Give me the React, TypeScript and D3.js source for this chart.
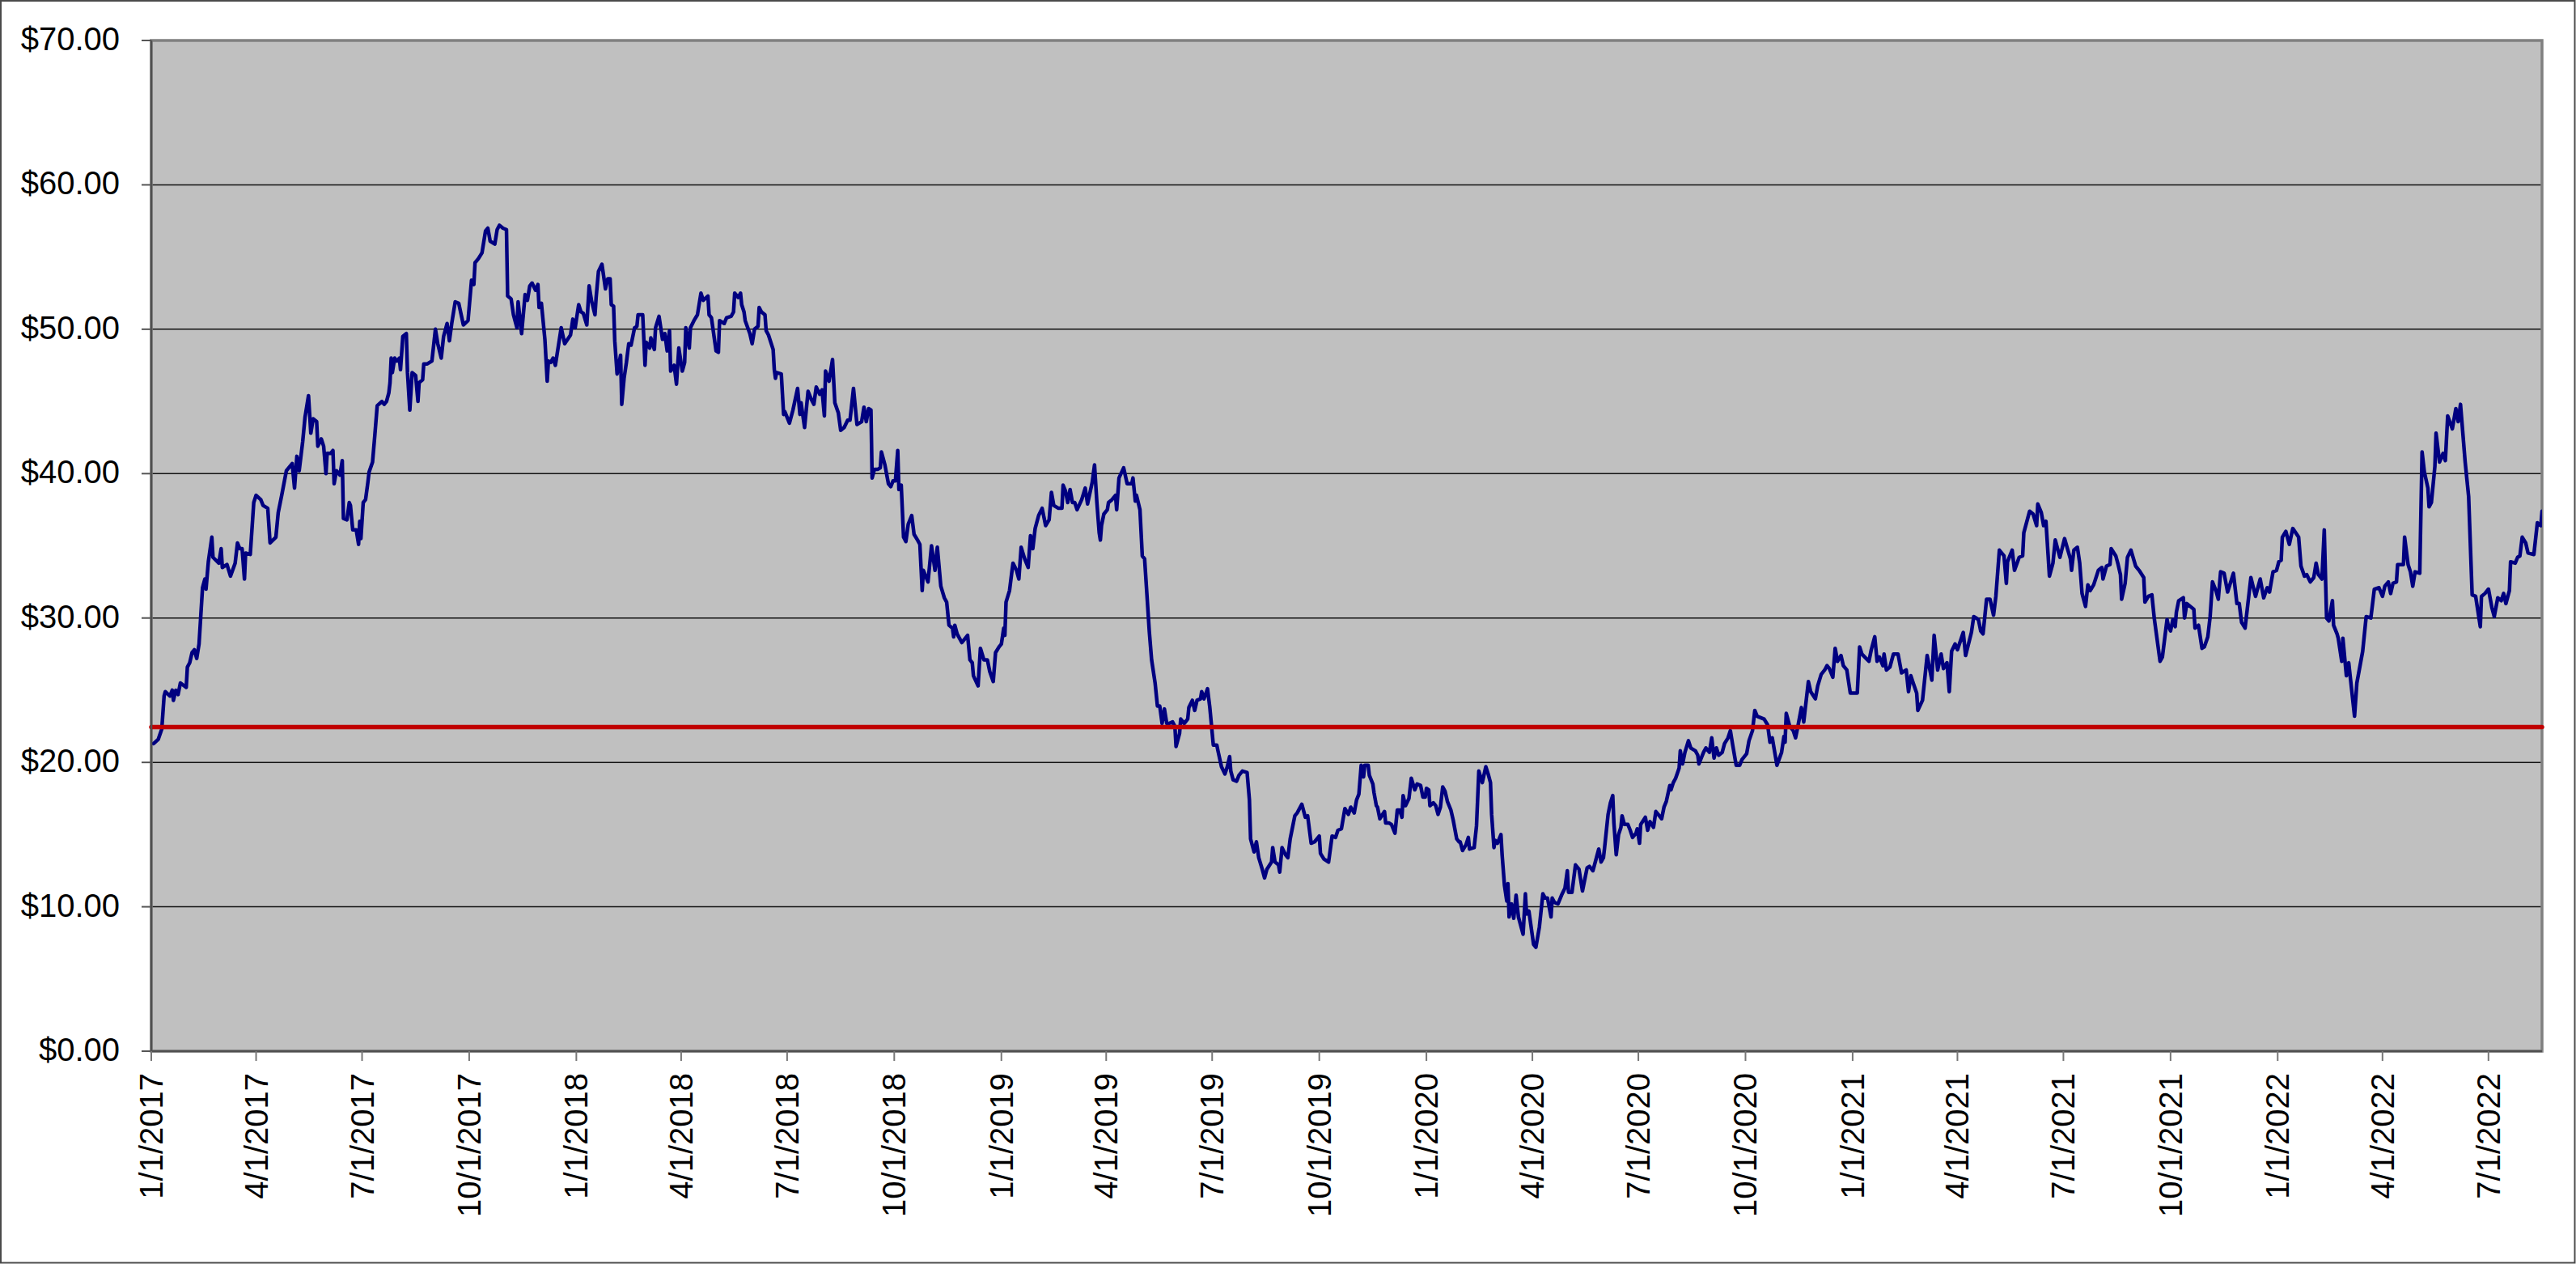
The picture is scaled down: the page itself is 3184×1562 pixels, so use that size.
import React, { useEffect } from "react";
import * as d3 from "d3";

// ---- data ----
const startDate = "2017-01-01";
const endDate = "2022-08-16";

// days since 1/1/2017
const dayOffsets = [
  2,6,9,11,12,16,18,19,21,23,25,30,31,33,35,37,39,41,44,46,47,49,52,53,58,60,61,65,68,72,74,76,78,80,81,85,88,90,94,96,100,102,107,109,112,116,119,121,123,125,127,130,132,135,137,139,142,143,146,148,150,151,154,156,157,159,162,164,165,168,170,171,173,176,178,179,180,182,184,186,187,190,192,194,198,200,202,204,205,206,207,209,211,213,214,216,219,220,222,224,227,229,230,233,234,237,241,244,246,249,251,254,256,258,261,264,268,272,275,277,278,281,284,287,289,291,295,297,299,302,305,306,309,311,314,315,318,321,323,325,327,330,332,333,335,338,340,341,
  343,345,347,352,355,360,362,364,367,369,371,374,376,378,381,382,384,387,390,392,394,395,397,398,400,403,404,406,408,410,412,415,417,418,422,424,425,428,429,432,433,436,439,441,443,445,446,449,451,453,456,458,459,462,463,466,469,472,474,478,479,481,485,487,488,492,494,498,500,501,504,506,507,509,510,514,516,518,521,522,524,527,528,530,534,535,536,537,541,543,544,548,551,555,557,558,561,564,567,569,571,574,576,578,579,582,585,587,590,592,595,598,600,603,606,610,612,614,616,618,619,621,624,626,627,630,633,635,637,639,641,642,644,646,648,650,653,655,658,660,662,663,667,670,673,675,678,681,683,685,688,689,
  690,692,696,701,703,705,706,710,712,715,718,720,723,725,728,730,732,733,734,737,739,740,743,745,747,750,753,755,757,759,762,765,768,771,773,775,779,782,783,785,787,789,791,793,795,799,802,804,808,810,812,814,815,816,818,821,822,825,828,829,831,835,838,842,843,845,846,849,851,853,855,857,859,862,864,866,868,870,872,874,877,879,880,883,884,887,890,891,894,896,898,901,902,904,907,909,912,915,916,919,922,924,926,927,929,932,934,937,941,943,944,947,949,951,954,956,958,962,963,965,968,969,971,974,976,978,982,984,988,991,993,996,999,1003,1004,1007,1011,1014,1017,1019,1022,1025,1028,1030,1033,1035,
  1037,1039,1041,1042,1045,1046,1049,1050,1052,1053,1055,1059,1060,1063,1065,1068,1070,1072,1074,1075,1077,1080,1082,1085,1087,1090,1092,1094,1095,1097,1098,1101,1103,1105,1107,1109,1111,1113,1116,1118,1121,1123,1124,1126,1129,1131,1132,1136,1138,1140,1143,1146,1148,1150,1151,1153,1154,1156,1159,1160,1162,1164,1165,1166,1168,1170,1172,1174,1178,1180,1181,1183,1187,1189,1192,1195,1197,1199,1202,1203,1205,1208,1211,1214,1216,1217,1220,1223,1226,1229,1233,1235,1238,1241,1243,1245,1247,1248,1251,1253,1255,1256,1258,1260,1262,1263,1265,1268,1270,1272,1275,1276,1278,1279,1283,1285,1287,1290,1292,1295,1297,1299,1301,1304,1305,1307,1309,1312,1313,1315,1317,1320,1322,1326,1328,1329,1333,1335,1338,1340,1342,1344,1346,1349,1351,1354,1356,1358,1361,1364,1366,1370,1372,1375,1377,1379,1382,
  1385,1388,1390,1392,1396,1400,1402,1403,1404,1407,1410,1412,1414,1417,1419,1423,1425,1429,1431,1434,1437,1439,1441,1444,1446,1448,1451,1453,1456,1459,1465,1467,1469,1475,1477,1480,1482,1484,1487,1488,1490,1493,1496,1500,1503,1507,1509,1511,1513,1516,1517,1521,1525,1529,1531,1534,1537,1539,1542,1544,1546,1549,1551,1556,1558,1563,1565,1569,1571,1573,1576,1579,1582,1584,1587,1590,1591,1593,1594,1598,1600,1604,1607,1608,1613,1616,1619,1620,1623,1625,1627,1630,1633,1635,1639,1643,1648,1649,1651,1654,1656,1658,1661,1663,1665,1668,1672,1675,1676,1679,1682,1683,1687,1689,1691,1692,1695,1697,1700,1704,1707,1711,1712,1715,1718,1720,1725,1727,1731,
  1732,1734,1736,1738,1739,1741,1745,1746,1748,1754,1755,1758,1761,1763,1766,1768,1770,1773,1775,1777,1780,1783,1788,1791,1793,1795,1798,1802,1803,1807,1811,1814,1817,1819,1822,1825,1827,1829,1830,1833,1836,1839,1844,1846,1849,1851,1854,1857,1859,1861,1864,1866,1868,1870,1873,1874,1877,1878,1881,1882,1885,1887,1892,1894,1899,1902,1906,1909,1913,1916,1918,1921,1923,1925,1928,1929,1934,1935,1938,1940,1942,1944,1948,1950,1952,1955,1956,1958,1961,1962,1965,1968,1970,1972,1976,1979,1981,1983,1987,1990,1993,1996,2000,2001,2004,2007,2010,2012,2015,2018,2020,2022,2025,2026,2030,2032,2034,2036,2039,2041,2046,2049,2052,2053,
];

const prices = [
  21.3,21.6,22.3,24.6,24.9,24.6,25.0,24.3,25.0,24.7,25.5,25.2,26.6,26.9,27.6,27.8,27.2,28.2,32.1,32.7,32.0,33.9,35.6,34.2,33.8,34.8,33.5,33.7,32.9,33.8,35.2,34.8,34.8,32.7,34.5,34.4,38.0,38.5,38.2,37.8,37.6,35.2,35.6,37.3,38.5,40.2,40.5,40.7,39.0,41.2,40.2,42.2,43.9,45.4,42.8,43.8,43.6,41.9,42.4,41.9,40.0,41.4,41.4,41.6,39.3,40.2,39.9,40.9,36.9,36.8,38.0,37.8,36.1,36.1,35.1,36.7,35.5,38.0,38.2,39.4,40.1,40.8,42.7,44.7,45.0,44.8,45.0,45.6,46.3,48.0,47.0,48.0,47.8,48.0,47.2,49.5,49.7,47.0,44.4,47.0,46.8,45.0,46.3,46.5,47.6,47.6,47.8,50.0,49.0,48.0,49.5,50.4,49.2,50.4,51.9,51.8,50.3,50.6,53.4,53.1,54.6,54.9,55.3,56.8,57.0,56.1,55.9,56.9,57.2,57.0,56.9,52.3,52.1,51.0,50.1,51.9,49.7,52.4,52.0,53.0,53.2,52.7,53.1,51.5,51.8,49.3,46.4,47.8,
  47.7,48.0,47.5,50.1,49.0,49.6,50.7,50.1,51.7,51.2,51.1,50.3,53.0,52.0,51.0,52.2,54.0,54.5,52.8,53.5,53.5,51.7,51.6,49.2,46.9,48.2,44.8,46.6,47.7,49.0,48.9,50.1,50.2,51.0,51.0,47.5,49.1,48.7,49.4,48.6,50.1,50.9,49.3,49.7,48.5,49.9,47.1,47.5,46.2,48.7,47.1,47.7,50.1,48.7,50.1,50.6,51.0,52.5,52.0,52.3,51.0,50.8,48.5,48.4,50.6,50.4,50.8,50.9,51.2,52.5,52.2,52.5,51.7,51.2,50.6,49.7,49.0,50.0,50.2,51.5,51.2,51.0,49.9,49.6,48.6,47.2,46.6,47.0,46.9,44.1,44.3,43.5,44.4,45.9,44.1,44.9,43.2,45.7,45.1,44.8,46.0,45.5,45.8,44.0,47.1,46.4,47.9,44.9,44.2,43.0,43.2,43.7,43.7,45.9,43.4,43.6,44.6,43.6,44.5,44.4,39.7,40.3,40.3,40.4,41.5,40.6,39.3,39.1,39.5,39.5,41.6,38.9,39.2,35.6,35.3,36.5,37.1,35.8,35.4,35.1,31.9,33.3,32.5,35.0,33.3,34.9,32.2,31.4,31.1,29.5,29.3,28.7,
  29.5,28.9,28.3,28.8,27.1,26.9,26.0,25.3,27.9,27.1,27.1,26.3,25.6,27.6,28.0,28.2,29.3,28.8,31.1,31.9,33.2,33.8,33.3,32.7,34.9,34.1,33.5,35.7,34.8,36.2,37.1,37.6,36.4,36.8,38.7,37.8,37.6,37.6,39.2,38.8,38.0,38.9,38.0,38.0,37.5,38.2,39.0,37.9,39.4,40.6,38.0,35.9,35.4,36.4,37.2,37.5,38.0,38.2,38.5,37.5,39.7,40.4,39.3,39.3,39.7,38.1,38.5,37.5,34.3,34.1,31.6,29.1,27.1,25.5,23.9,23.9,22.7,23.7,22.7,22.7,22.8,22.5,21.1,22.0,23.0,22.7,23.0,23.8,24.3,23.6,24.3,24.4,24.9,24.4,25.1,23.8,21.2,21.2,20.8,19.7,19.2,19.7,20.4,19.4,18.8,18.7,19.1,19.4,19.3,17.4,14.7,13.8,14.5,13.4,12.6,12.0,12.6,13.1,14.1,13.1,12.9,12.4,14.1,13.6,13.4,14.7,16.3,16.5,17.1,16.2,16.3,14.4,14.5,14.9,13.7,13.3,13.1,14.9,14.8,15.3,15.4,16.8,16.4,16.9,16.5,17.4,
  17.8,19.8,19.0,19.8,19.8,19.1,18.5,17.9,17.0,16.9,16.1,16.6,15.8,15.8,15.7,15.1,16.7,16.7,16.2,17.7,17.0,17.5,18.9,18.1,18.5,18.4,17.6,17.6,18.2,18.1,17.0,17.2,17.0,16.4,16.9,18.3,18.0,17.3,16.7,16.0,14.7,14.5,14.5,13.9,14.3,14.8,14.0,14.1,15.6,19.4,18.6,19.7,19.2,18.6,16.4,14.1,14.6,14.4,15.0,13.6,11.5,10.4,11.6,9.3,10.2,9.2,10.8,9.3,8.1,10.9,9.5,9.7,7.4,7.2,8.6,10.9,10.6,10.6,9.3,10.6,10.3,10.2,10.8,11.3,12.5,11.0,11.0,12.9,12.6,11.1,12.7,12.8,12.5,13.4,14.0,13.1,13.4,14.1,16.4,17.2,17.7,15.8,13.6,15.0,15.5,16.3,15.7,15.7,15.3,14.8,15.1,15.4,14.4,15.7,16.2,15.3,15.9,15.5,16.6,16.3,16.1,16.9,17.3,18.4,18.1,18.6,18.9,19.6,20.8,19.9,20.7,21.5,21.0,20.8,20.5,19.9,20.7,21.0,20.7,21.7,20.3,21.0,20.5,20.7,21.3,21.7,22.2,21.2,19.8,19.8,20.2,20.6,21.5,22.2,23.6,23.2,23.1,
  23.0,22.6,21.4,21.7,19.8,20.7,21.8,21.4,23.4,22.5,22.2,21.7,22.5,23.8,22.8,25.6,24.9,24.4,25.3,26.1,26.4,26.7,26.5,25.9,27.9,27.0,27.4,26.7,26.4,24.8,24.8,28.0,27.5,27.0,27.8,28.7,27.0,27.3,26.7,27.5,26.4,26.6,27.5,27.5,26.2,26.4,24.9,26.0,25.5,24.8,23.6,24.3,27.4,25.7,28.8,26.4,27.5,26.5,26.9,24.9,27.7,28.2,27.8,29.0,27.4,29.0,30.1,29.9,29.1,28.9,31.3,31.3,30.2,31.5,34.7,34.4,34.3,32.4,33.9,34.7,33.3,34.2,34.3,35.9,37.4,37.2,36.4,37.9,37.3,36.4,36.7,32.9,33.8,35.4,34.2,35.5,34.1,33.3,34.7,34.9,33.8,31.7,30.8,32.3,31.9,32.3,33.3,33.5,32.7,33.6,33.7,34.8,34.3,33.7,33.0,31.3,32.4,34.2,34.7,33.6,33.3,32.8,31.1,31.5,31.6,30.0,27.0,27.3,29.9,
  29.5,29.1,29.9,29.4,30.4,31.2,31.4,30.0,31.0,30.6,29.3,29.5,27.9,28.0,28.7,30.1,32.5,31.9,31.3,33.2,33.1,31.8,33.1,31.0,31.0,29.7,29.3,32.1,32.8,31.5,32.7,31.4,32.1,31.8,33.2,33.3,33.9,34.0,35.6,36.0,35.1,36.2,35.6,33.6,32.9,33.0,32.5,32.8,33.8,33.0,32.7,36.1,30.0,29.8,31.2,29.5,28.9,28.6,27.0,28.6,26.0,26.9,23.2,25.5,27.7,30.1,30.0,32.0,32.1,31.5,32.2,32.5,31.7,32.4,32.5,33.7,33.7,35.6,33.7,33.2,32.2,33.2,33.1,41.5,40.1,39.0,37.7,38.0,40.5,42.8,40.8,41.4,40.9,44.0,43.1,44.5,43.6,44.8,40.8,38.4,31.6,31.5,29.4,31.5,31.7,32.0,30.7,30.1,31.4,31.2,31.7,31.0,31.9,33.9,33.8,34.2,34.3,35.6,35.2,34.5,34.4,36.6,36.4,37.4,
];

const referencePrice = 22.45;

const yTickValues = [0, 10, 20, 30, 40, 50, 60, 70];

const xTickLabels = [
  "1/1/2017", "4/1/2017", "7/1/2017", "10/1/2017",
  "1/1/2018", "4/1/2018", "7/1/2018", "10/1/2018",
  "1/1/2019", "4/1/2019", "7/1/2019", "10/1/2019",
  "1/1/2020", "4/1/2020", "7/1/2020", "10/1/2020",
  "1/1/2021", "4/1/2021", "7/1/2021", "10/1/2021",
  "1/1/2022", "4/1/2022", "7/1/2022",
];

// ---- layout ----
const W = 3184;
const H = 1562;
const PL = 187;
const PR = 3142;
const PT = 50;
const PB = 1299;
const FONT = "'Liberation Sans', Arial, Helvetica, sans-serif";

export default function App() {
  useEffect(() => {
    document.body.style.margin = "0";
  }, []);

  const parseIso = d3.timeParse("%Y-%m-%d");
  const parseUs = d3.timeParse("%m/%d/%Y");
  const start = parseIso(startDate) as Date;
  const end = parseIso(endDate) as Date;

  const x = d3.scaleTime().domain([start, end]).range([PL, PR]);
  const y = d3.scaleLinear().domain([0, 70]).range([PB, PT]);

  const n = Math.min(dayOffsets.length, prices.length);
  const data = d3.range(n).map((i) => ({
    date: d3.timeDay.offset(start, dayOffsets[i]),
    value: prices[i],
  }));

  const line = d3
    .line<{ date: Date; value: number }>()
    .x((d) => x(d.date))
    .y((d) => y(d.value));

  const fmt = d3.format("$.2f");

  return (
    <svg
      width={W}
      height={H}
      style={{ position: "absolute", left: 0, top: 0, display: "block", background: "#fff" }}
    >
      <defs>
        <clipPath id="plotClip">
          <rect x={PL} y={PT} width={PR - PL} height={PB - PT} />
        </clipPath>
      </defs>
      <rect x={1} y={1} width={W - 2.5} height={H - 2.5} fill="#fff" stroke="#4a4a4a" strokeWidth={2} />

      <rect x={PL} y={PT} width={PR - PL} height={PB - PT} fill="#C0C0C0" />

      {yTickValues
        .filter((v) => v > 0 && v < 70)
        .map((v) => (
          <line key={"g" + v} x1={PL} x2={PR} y1={y(v)} y2={y(v)} stroke="#111" strokeWidth={1.5} />
        ))}

      <rect
        x={PL}
        y={PT}
        width={PR - PL}
        height={PB - PT}
        fill="none"
        stroke="#808080"
        strokeWidth={3.5}
      />

      <g clipPath="url(#plotClip)">
        <path
          d={line(data) || ""}
          fill="none"
          stroke="#000080"
          strokeWidth={4.5}
          strokeLinejoin="round"
          strokeLinecap="round"
        />
      </g>

      <line
        x1={PL}
        x2={PR}
        y1={y(referencePrice)}
        y2={y(referencePrice)}
        stroke="#C00000"
        strokeWidth={5.5}
        strokeLinecap="round"
      />

      {/* axes */}
      <line x1={PL} x2={PL} y1={PT} y2={PB} stroke="#505050" strokeWidth={2.5} />
      <line x1={PL} x2={PR} y1={PB} y2={PB} stroke="#505050" strokeWidth={2.5} />

      {yTickValues.map((v) => (
        <g key={"y" + v}>
          <line x1={PL - 12} x2={PL} y1={y(v)} y2={y(v)} stroke="#555" strokeWidth={2} />
          <text
            x={148}
            y={y(v)}
            dy="0.3em"
            textAnchor="end"
            fontFamily={FONT}
            fontSize={40}
            fill="#000"
          >
            {fmt(v)}
          </text>
        </g>
      ))}

      {xTickLabels.map((lab) => {
        const d = parseUs(lab) as Date;
        const xx = x(d);
        return (
          <g key={lab}>
            <line x1={xx} x2={xx} y1={PB} y2={PB + 12} stroke="#777" strokeWidth={2} />
            <text
              transform={`translate(${xx},1326) rotate(-90)`}
              dy="0.35em"
              textAnchor="end"
              fontFamily={FONT}
              fontSize={40}
              fill="#000"
            >
              {lab}
            </text>
          </g>
        );
      })}
    </svg>
  );
}
